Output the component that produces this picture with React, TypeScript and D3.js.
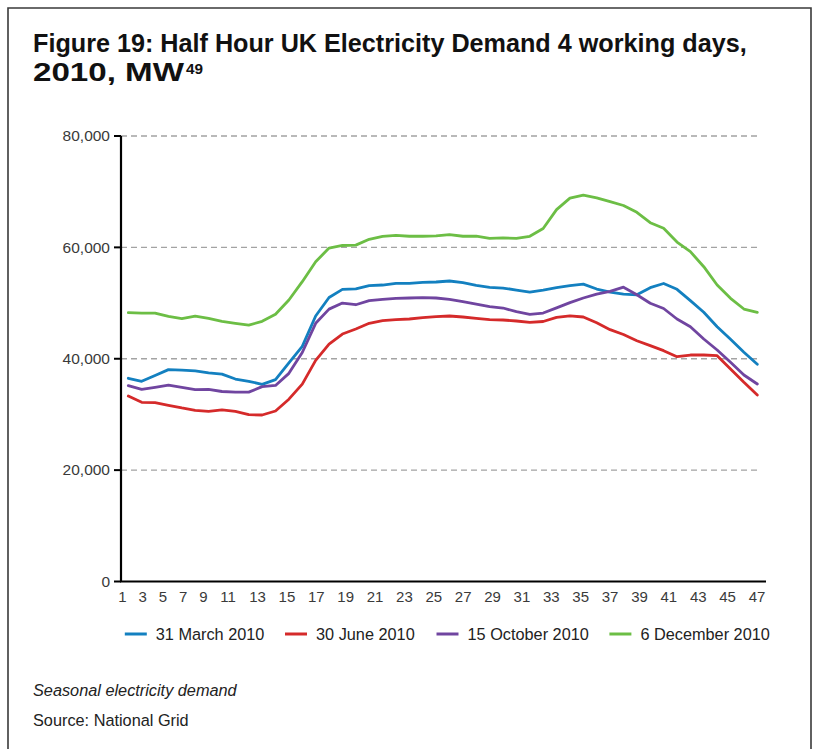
import React, { useLayoutEffect, useRef } from "react";
import * as d3 from "d3";

// ---- data ----
const halfHours = [
  1, 2, 3, 4, 5, 6, 7, 8, 9, 10, 11, 12, 13, 14, 15, 16, 17, 18, 19, 20, 21, 22, 23, 24,
  25, 26, 27, 28, 29, 30, 31, 32, 33, 34, 35, 36, 37, 38, 39, 40, 41, 42, 43, 44, 45, 46, 47, 48,
];

const march31 = [
  36490, 35950, 37000, 38050, 37950, 37830, 37470, 37230, 36360, 35950, 35410, 36240,
  39260, 42230, 47680, 51000, 52450, 52550, 53120, 53240, 53540, 53540, 53720, 53780,
  53960, 53660, 53180, 52820, 52700, 52340, 51980, 52340, 52760, 53120, 53390, 52520,
  51980, 51600, 51480, 52760, 53510, 52470, 50430, 48340, 45760, 43490, 41180, 39000,
];

const june30 = [
  33310, 32180, 32110, 31640, 31160, 30740, 30560, 30830, 30560, 29960, 29900, 30620,
  32740, 35440, 39710, 42610, 44440, 45350, 46360, 46840, 47020, 47140, 47380, 47550,
  47680, 47500, 47260, 47020, 46960, 46780, 46540, 46690, 47440, 47710, 47500, 46450,
  45220, 44350, 43240, 42350, 41450, 40370, 40670, 40670, 40550, 38160, 35770, 33490,
];

const october15 = [
  35170, 34510, 34870, 35260, 34870, 34450, 34510, 34120, 34000, 34000, 34990, 35200,
  37380, 41120, 46360, 48910, 50000, 49700, 50430, 50670, 50850, 50910, 50970, 50910,
  50670, 50250, 49830, 49350, 49110, 48450, 47980, 48210, 49140, 50070, 50910, 51600,
  52100, 52850, 51500, 49960, 49020, 47140, 45760, 43550, 41570, 39360, 37080, 35470,
];

const december6 = [
  48270, 48210, 48210, 47600, 47220, 47650, 47230, 46720, 46360, 46030, 46720, 48000,
  50550, 53840, 57430, 59870, 60340, 60400, 61450, 61990, 62170, 62000, 62000, 62050,
  62290, 62000, 62000, 61630, 61690, 61630, 61990, 63400, 66770, 68840, 69400, 68900,
  68200, 67520, 66290, 64430, 63420, 60960, 59230, 56530, 53240, 50850, 48930, 48340,
];

const seriesNames = ["31 March 2010", "30 June 2010", "15 October 2010", "6 December 2010"];
const seriesValues = [march31, june30, october15, december6];
const seriesColors = ["#1380c0", "#d52a2a", "#7045a0", "#6cbe45"];

const yTicks = [0, 20000, 40000, 60000, 80000];
const xTickLabels = [
  "1", "3", "5", "7", "9", "11", "13", "15", "17", "19", "21", "23",
  "25", "27", "29", "31", "33", "35", "37", "39", "41", "43", "45", "47",
];

const titleLine1 = "Figure 19: Half Hour UK Electricity Demand 4 working days,";
const titleLine2 = "2010, MW";
const titleSup = "49";
const noteText = "Seasonal electricity demand";
const sourceText = "Source: National Grid";

function FitText({
  x,
  y,
  width,
  children,
  ...rest
}: {
  x: number;
  y: number;
  width: number;
  children: React.ReactNode;
  [k: string]: any;
}) {
  const ref = useRef<SVGTextElement>(null);
  useLayoutEffect(() => {
    const el = ref.current;
    if (!el) return;
    el.setAttribute("transform", `translate(${x},${y})`);
    const len = el.getComputedTextLength();
    const s = len > 0 ? width / len : 1;
    el.setAttribute("transform", `translate(${x},${y}) scale(${s},1)`);
  }, [x, y, width]);
  return (
    <text ref={ref} x={0} y={0} transform={`translate(${x},${y}) scale(0.8,1)`} {...rest}>
      {children}
    </text>
  );
}

export default function App() {
  const W = 819;
  const H = 749;
  const plotLeft = 121;
  const plotRight = 760;
  const axisRight = 766;
  const yTop = 136;
  const yBottom = 581.5;

  const x = d3.scaleLinear().domain([1, 48]).range([128.3, 757.3]);
  const y = d3.scaleLinear().domain([0, 80000]).range([yBottom, yTop]);
  const fmt = d3.format(",");

  const line = d3
    .line<number>()
    .x((_, i) => x(halfHours[i]))
    .y((d) => y(d));

  // x tick labels are laid out like a text run: constant gap between labels
  const GAP = 1.22;
  let acc = 0;
  const units: number[] = [];
  xTickLabels.forEach((l) => {
    units.push(acc + l.length / 2);
    acc += l.length + GAP;
  });
  const xl = d3
    .scaleLinear()
    .domain([units[0], units[units.length - 1]])
    .range([122.3, 757]);

  const legendX = [124.8, 285, 436.5, 609.4];
  const sans = "'Liberation Sans', Arial, Helvetica, sans-serif";

  return (
    <div style={{ position: "absolute", left: 0, top: 0, width: W, height: H, background: "#fff" }}>
      <svg width={W} height={H} viewBox={`0 0 ${W} ${H}`} style={{ display: "block" }}>
        <rect x={0} y={0} width={W} height={H} fill="#fff" />
        {/* frame */}
        <path d={`M8,${H} L8,8 L811,8 L811,${H}`} fill="none" stroke="#3a3a3a" strokeWidth={1.6} />

        {/* title */}
        <FitText x={33} y={52} width={714} fontFamily={sans} fontWeight="bold" fontSize={26.5} fill="#111">
          {titleLine1}
        </FitText>
        <FitText x={33} y={81} width={151} fontFamily={sans} fontWeight="bold" fontSize={26.5} fill="#111">
          {titleLine2}
        </FitText>
        <FitText x={186} y={74} width={17} fontFamily={sans} fontWeight="bold" fontSize={14} fill="#111">
          {titleSup}
        </FitText>

        {/* gridlines */}
        {yTicks
          .filter((t) => t > 0)
          .map((t) => (
            <line
              key={"g" + t}
              x1={plotLeft}
              x2={plotRight}
              y1={y(t)}
              y2={y(t)}
              stroke="#a3a3a3"
              strokeWidth={1.4}
              strokeDasharray="6 4"
            />
          ))}

        {/* y ticks and labels */}
        {yTicks.map((t) => (
          <g key={"y" + t}>
            <line x1={114} x2={plotLeft} y1={y(t)} y2={y(t)} stroke="#000" strokeWidth={2} />
            <text
              x={110}
              y={y(t) + 5.3}
              textAnchor="end"
              fontFamily={sans}
              fontSize={15.5}
              fill="#3a3a3a"
            >
              {fmt(t)}
            </text>
          </g>
        ))}

        {/* series */}
        {seriesValues.map((vals, i) => (
          <path
            key={"s" + i}
            d={line(vals) || ""}
            fill="none"
            stroke={seriesColors[i]}
            strokeWidth={2.8}
            strokeLinejoin="round"
            strokeLinecap="round"
          />
        ))}

        {/* axes */}
        <line x1={plotLeft} x2={plotLeft} y1={yTop} y2={yBottom} stroke="#000" strokeWidth={2.2} />
        <line x1={plotLeft - 1} x2={axisRight} y1={yBottom} y2={yBottom} stroke="#000" strokeWidth={2.2} />

        {/* x tick labels */}
        {xTickLabels.map((l, i) => (
          <text
            key={"x" + l}
            x={xl(units[i])}
            y={601.5}
            textAnchor="middle"
            fontFamily={sans}
            fontSize={15}
            fill="#3a3a3a"
          >
            {l}
          </text>
        ))}

        {/* legend */}
        {seriesNames.map((n, i) => (
          <g key={"l" + i}>
            <line
              x1={legendX[i]}
              x2={legendX[i] + 22}
              y1={634}
              y2={634}
              stroke={seriesColors[i]}
              strokeWidth={3}
            />
            <text x={legendX[i] + 31} y={639.5} fontFamily={sans} fontSize={16.3} fill="#222">
              {n}
            </text>
          </g>
        ))}

        {/* notes */}
        <text x={33} y={696} fontFamily={sans} fontStyle="italic" fontSize={16.3} fill="#222">
          {noteText}
        </text>
        <text x={33} y={726} fontFamily={sans} fontSize={16.3} fill="#222">
          {sourceText}
        </text>
      </svg>
    </div>
  );
}
